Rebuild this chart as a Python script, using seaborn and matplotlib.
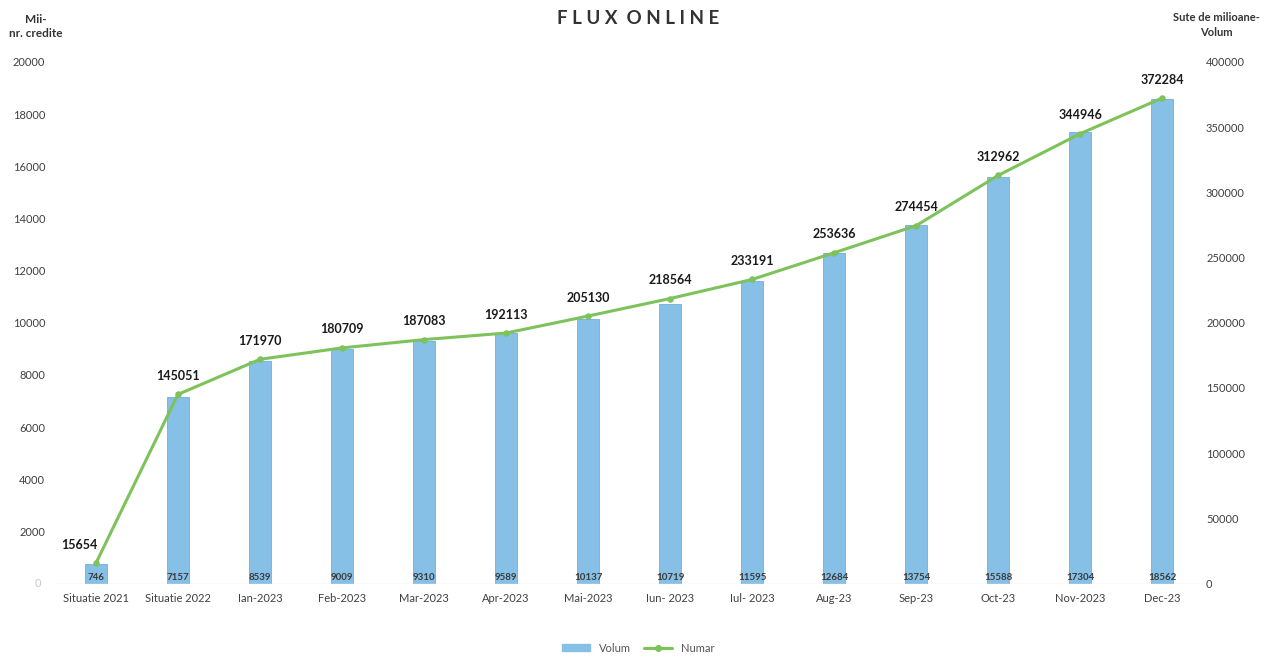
import matplotlib
matplotlib.use("Agg")
import matplotlib.pyplot as plt
import seaborn as sns
import pandas as pd
from matplotlib.patches import Patch
from matplotlib.lines import Line2D

# data
luni = ['Situatie 2021', 'Situatie 2022', 'Ian-2023', 'Feb-2023', 'Mar-2023', 'Apr-2023',
        'Mai-2023', 'Iun- 2023', 'Iul- 2023', 'Aug-23', 'Sep-23', 'Oct-23', 'Nov-2023', 'Dec-23']
volum = [746, 7157, 8539, 9009, 9310, 9589, 10137, 10719, 11595, 12684, 13754, 15588, 17304, 18562]
numar = [15654, 145051, 171970, 180709, 187083, 192113, 205130, 218564, 233191, 253636,
         274454, 312962, 344946, 372284]

df = pd.DataFrame({'Luna': luni, 'Volum': volum, 'Numar': numar})

bar_col = '#86c0e6'
line_col = '#7dc25b'

sns.set_style("white")
plt.rcParams['font.family'] = ['Lato', 'DejaVu Sans']

fig, ax = plt.subplots(figsize=(12.76, 6.58), dpi=100)
fig.subplots_adjust(left=0.043, right=0.943, top=0.906, bottom=0.113)

sns.barplot(data=df, x='Luna', y='Volum', color=bar_col, edgecolor='#6eb0dc',
            linewidth=0.6, width=0.27, ax=ax, saturation=1)
ax.set_ylim(0, 20000)
ax.set_yticks(range(2000, 20001, 2000))
ax.set_xlim(-0.5, 13.5)

ax2 = ax.twinx()
sns.pointplot(data=df, x='Luna', y='Numar', color=line_col, markers='o',
              markersize=3, linewidth=2.2, ax=ax2)
ax2.set_ylim(0, 400000)
ax2.set_yticks(range(0, 400001, 50000))
ax2.set_xlim(-0.5, 13.5)

for a in (ax, ax2):
    a.set_xlabel('')
    a.set_ylabel('')
    for s in a.spines.values():
        s.set_visible(False)
    a.tick_params(axis='both', length=0, labelsize=8, colors='#404040')
ax.axhline(0, color='#e6e6e6', lw=1)
ax.tick_params(axis='y', pad=7)
ax.tick_params(axis='x', pad=7)
ax2.tick_params(axis='y', pad=2)
ax.text(-0.012, 0, '0', transform=ax.get_yaxis_transform(), ha='right', va='center',
        fontsize=8, color='#c8c8c8')

# labels at bar base
for i, v in enumerate(volum):
    ax.text(i, 250, str(v), ha='center', va='center', fontsize=7, fontweight='bold',
            color='#3a3a3a')

# labels above line points
for i, v in enumerate(numar):
    dx = -12 if i == 0 else 0
    ax2.annotate(str(v), (i, v), xytext=(dx, 9), textcoords='offset points',
                 ha='center', va='bottom', fontsize=9, fontweight='bold', color='#1a1a1a')

fig.text(0.5, 0.972, 'F L U X  O N L I N E', ha='center', va='center', fontsize=13.5,
         fontweight='bold', color='#333333')
fig.text(0.028, 0.96, 'Mii-\nnr. credite', ha='center', va='center', fontsize=8.5,
         fontweight='bold', color='#333333', linespacing=1.3)
fig.text(0.953, 0.962, 'Sute de milioane-\nVolum', ha='center', va='center', fontsize=8,
         fontweight='bold', color='#333333', linespacing=1.4)

handles = [Patch(color=bar_col, label='Volum'),
           Line2D([0], [0], color=line_col, lw=2.2, marker='o', markersize=4, label='Numar')]
fig.legend(handles=handles, loc='center', bbox_to_anchor=(0.5, 0.015), ncol=2, frameon=False,
           fontsize=8, handlelength=2.5, handleheight=0.6, columnspacing=1.2,
           labelcolor='#555555')

fig.savefig('out.png', dpi=100)
